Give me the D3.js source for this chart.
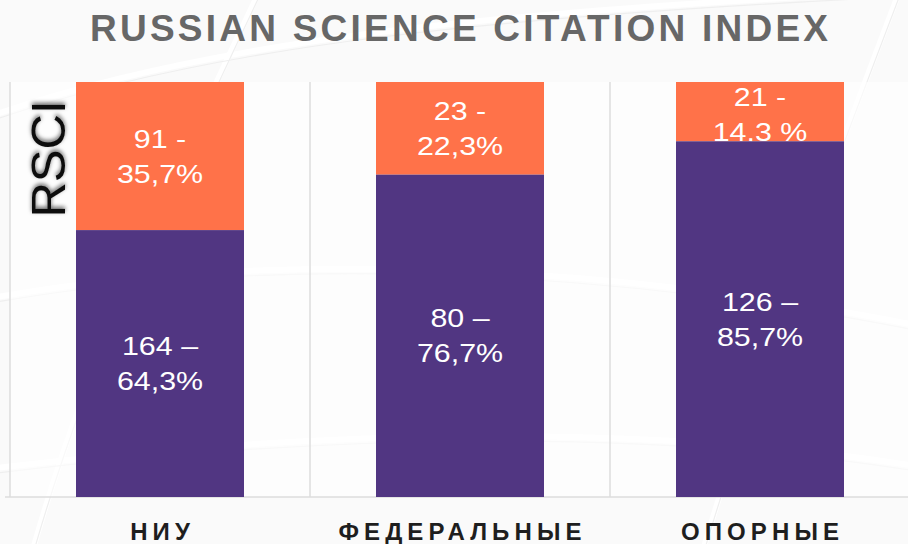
<!DOCTYPE html>
<html>
<head>
<meta charset="utf-8">
<script src="https://cdn.jsdelivr.net/npm/d3@7"></script>
<style>
  body { margin: 0; background: #fafafa; }
  svg { display: block; }
</style>
</head>
<body>
<div id="chart"></div>
<script>
// Data
var categories = ["НИУ", "ФЕДЕРАЛЬНЫЕ", "ОПОРНЫЕ"];
var rsciCount  = [91, 23, 21];
var rsciPct    = [35.7, 22.3, 14.3];
var otherCount = [164, 80, 126];
var otherPct   = [64.3, 76.7, 85.7];
var rsciLabels  = [["91 -", "35,7%"], ["23 -", "22,3%"], ["21 -", "14,3 %"]];
var otherLabels = [["164 –", "64,3%"], ["80 –", "76,7%"], ["126 –", "85,7%"]];
var titleText = "RUSSIAN SCIENCE CITATION INDEX";
var axisTitle = "RSCI";

var width = 908, height = 544;
var plot = {left: 10, right: 910, top: 82, bottom: 497};
var orange = "#ff7249", purple = "#513682";

var svg = d3.select("#chart").append("svg")
    .attr("width", width)
    .attr("height", height);

var defs = svg.append("defs");
var shadow = defs.append("filter").attr("id", "shadow")
    .attr("x", "-30%").attr("y", "-30%").attr("width", "160%").attr("height", "160%");
shadow.append("feDropShadow")
    .attr("dx", 2).attr("dy", 0)
    .attr("stdDeviation", 2)
    .attr("flood-color", "#000")
    .attr("flood-opacity", 0.6);

// faint background streaks
var bg = svg.append("g").attr("class", "bg");
bg.append("rect").attr("width", width).attr("height", height).attr("fill", "#fafafa");
var streaks = ["M-20,120 C200,40 500,10 940,-10", "M-20,300 C250,250 600,260 940,330",
               "M30,560 C80,380 160,200 260,-10", "M700,560 C760,360 820,200 900,-10",
               "M-20,470 C300,430 650,420 940,470"];
bg.selectAll("path").data(streaks).enter().append("path")
    .attr("d", function(d) { return d; })
    .attr("fill", "none")
    .attr("stroke", "#ffffff")
    .attr("stroke-width", 6)
    .attr("opacity", 0.9);
bg.selectAll(".grey").data(streaks).enter().append("path")
    .attr("class", "grey")
    .attr("d", function(d) { return d; })
    .attr("fill", "none")
    .attr("stroke", "#efefef")
    .attr("stroke-width", 1.2)
    .attr("transform", "translate(0,5)");

// plot background
svg.append("rect")
    .attr("x", plot.left).attr("y", plot.top)
    .attr("width", width - plot.left).attr("height", plot.bottom - plot.top)
    .attr("fill", "#ffffff").attr("opacity", 0.6);

// Scales
var x = d3.scaleBand()
    .domain(categories)
    .range([plot.left, plot.right])
    .paddingInner(0.44)
    .paddingOuter(0.22);

// 100% stacked: share of each bar's total
var y = d3.scaleLinear()
    .domain([0, 1])
    .range([plot.top, plot.bottom]);

var xOuter = d3.scaleBand().domain(categories).range([plot.left, plot.right]);

// separators
svg.append("g").selectAll("line")
    .data(categories).enter().append("line")
    .attr("x1", function(d) { return xOuter(d); })
    .attr("x2", function(d) { return xOuter(d); })
    .attr("y1", plot.top)
    .attr("y2", plot.bottom)
    .attr("stroke", "#dcdcdc")
    .attr("stroke-width", 1.5);

svg.append("line")
    .attr("x1", 5).attr("x2", width)
    .attr("y1", plot.bottom).attr("y2", plot.bottom)
    .attr("stroke", "#dcdcdc")
    .attr("stroke-width", 1.5);

var labelFont = "'Liberation Sans', Arial, Helvetica, sans-serif";

function addLabel(g, lines, cx, cy) {
    var lh = 35;
    var t = g.append("text")
        .attr("text-anchor", "middle")
        .attr("fill", "#ffffff")
        .attr("transform", "translate(" + cx + ",0) scale(1.17,1)")
        .style("font-family", labelFont)
        .style("font-size", "26px");
    lines.forEach(function(l, i) {
        t.append("tspan")
            .attr("x", 0)
            .attr("y", cy + 9 + (i - (lines.length - 1) / 2) * lh)
            .text(l);
    });
}

var bars = svg.append("g").attr("class", "bars");
categories.forEach(function(c, i) {
    var g = bars.append("g");
    var cx = x(c) + x.bandwidth() / 2;
    var total = rsciCount[i] + otherCount[i];
    // RSCI segment (top)
    var y0 = y(0), y1 = y(rsciCount[i] / total);
    g.append("rect")
        .attr("x", x(c)).attr("y", y0)
        .attr("width", x.bandwidth()).attr("height", y1 - y0)
        .attr("fill", orange);
    addLabel(g, rsciLabels[i], cx, Math.max((y0 + y1) / 2, y0 + 33));
    // other segment (bottom)
    var y2 = y(1);
    g.append("rect")
        .attr("x", x(c)).attr("y", y1)
        .attr("width", x.bandwidth()).attr("height", y2 - y1)
        .attr("fill", purple);
    addLabel(g, otherLabels[i], cx, (y1 + y2) / 2);
});

// axis title, rotated
svg.append("text")
    .attr("transform", "translate(65,159) rotate(-90)")
    .attr("text-anchor", "middle")
    .attr("fill", "#111")
    .attr("filter", "url(#shadow)")
    .style("font-family", labelFont)
    .style("font-size", "49px")
    .text(axisTitle);

// Title, stretched to width with letter spacing
var title = svg.append("text")
    .attr("x", 0).attr("y", 41)
    .attr("fill", "#676767")
    .style("font-family", labelFont)
    .style("font-weight", "bold")
    .style("font-size", "37px")
    .text(titleText);
var tLen = title.node().getComputedTextLength();
var tSpace = (738 - tLen) / (titleText.length - 1);
title.style("letter-spacing", tSpace + "px").attr("x", 90);

// category labels
var catText = svg.append("g").selectAll("text")
    .data(categories).enter().append("text")
    .attr("y", 540)
    .attr("fill", "#1e1e1e")
    .style("font-family", labelFont)
    .style("font-weight", "bold")
    .style("font-size", "24px")
    .text(function(d) { return d; });
var longest = catText.filter(function(d) { return d === "ФЕДЕРАЛЬНЫЕ"; });
var cLen = longest.node().getComputedTextLength();
var cSpace = Math.max(0, (243 - cLen) / 10);
catText.style("letter-spacing", cSpace + "px")
    .attr("x", function(d) {
        var w = this.getComputedTextLength() - cSpace;
        return x(d) + x.bandwidth() / 2 - w / 2;
    });
</script>
</body>
</html>
